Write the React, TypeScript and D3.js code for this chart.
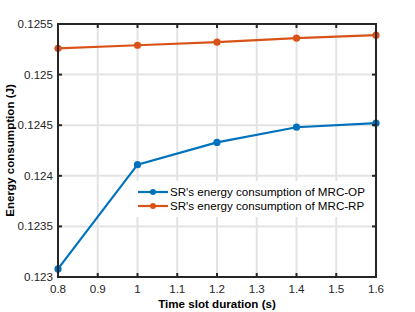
import { line, scaleLinear } from 'd3';

const slotDurations = [0.8, 1.0, 1.2, 1.4, 1.6];
const opEnergy = [0.12308, 0.12411, 0.12433, 0.12448, 0.12452];
const rpEnergy = [0.12526, 0.12529, 0.12532, 0.12536, 0.12539];
const xTicks = [0.8, 0.9, 1.0, 1.1, 1.2, 1.3, 1.4, 1.5, 1.6];
const yTicks = [0.123, 0.1235, 0.124, 0.1245, 0.125, 0.1255];

const seriesList = [
  { name: "SR's energy consumption of MRC-OP", values: opEnergy, color: '#0072BD' },
  { name: "SR's energy consumption of MRC-RP", values: rpEnergy, color: '#D95319' },
];

const width = 415;
const height = 312;
const margin = { top: 24, right: 39, bottom: 35, left: 58 };
const font = 'Liberation Sans, Arial, Helvetica, sans-serif';
const fs = 11.6;

export default function App() {
  const xScale = scaleLinear().domain([0.8, 1.6]).range([margin.left, width - margin.right]);
  const yScale = scaleLinear().domain([0.123, 0.1255]).range([height - margin.bottom, margin.top]);
  const x0 = margin.left;
  const x1 = width - margin.right;
  const y0 = height - margin.bottom;
  const y1 = margin.top;

  const pathFor = (values: number[]) =>
    line<number>()
      .x((_, i) => xScale(slotDurations[i]))
      .y(v => yScale(v))(values) ?? '';

  return (
    <svg width={width} height={height} style={{ position: 'absolute', left: 0, top: 0 }} fontFamily={font}>
      <rect width={width} height={height} fill="#fff" />
      {xTicks.map(t => (
        <line key={`gx${t}`} x1={xScale(t)} x2={xScale(t)} y1={y0} y2={y1} stroke="#e3e3e3" strokeWidth={2} />
      ))}
      {yTicks.map(t => (
        <line key={`gy${t}`} x1={x0} x2={x1} y1={yScale(t)} y2={yScale(t)} stroke="#e3e3e3" strokeWidth={2} />
      ))}

      {seriesList.map(s => (
        <g key={s.name}>
          <path d={pathFor(s.values)} fill="none" stroke={s.color} strokeWidth={2.2} />
          {s.values.map((v, i) => (
            <circle key={i} cx={xScale(slotDurations[i])} cy={yScale(v)} r={3.6} fill={s.color} />
          ))}
        </g>
      ))}

      {/* legend */}
      <rect x={136} y={181} width={236} height={36} fill="#fff" />
      {seriesList.map((s, i) => {
        const ly = 192 + i * 14;
        return (
          <g key={`lg${s.name}`}>
            <line x1={138} x2={168} y1={ly} y2={ly} stroke={s.color} strokeWidth={2.2} />
            <circle cx={153} cy={ly} r={3} fill={s.color} />
            <text x={170} y={ly + 4} fontSize={fs} fill="#000">{s.name}</text>
          </g>
        );
      })}

      {/* axes box */}
      <rect x={x0} y={y1} width={x1 - x0} height={y0 - y1} fill="none" stroke="#262626" strokeWidth={2} />
      {xTicks.map(t => (
        <g key={`tx${t}`}>
          <line x1={xScale(t)} x2={xScale(t)} y1={y0} y2={y0 - 4} stroke="#262626" strokeWidth={2} />
          <line x1={xScale(t)} x2={xScale(t)} y1={y1} y2={y1 + 4} stroke="#262626" strokeWidth={2} />
          <text x={xScale(t)} y={293} fontSize={fs} textAnchor="middle" fill="#262626">{String(t)}</text>
        </g>
      ))}
      {yTicks.map(t => (
        <g key={`ty${t}`}>
          <line x1={x0} x2={x0 + 4} y1={yScale(t)} y2={yScale(t)} stroke="#262626" strokeWidth={2} />
          <line x1={x1} x2={x1 - 4} y1={yScale(t)} y2={yScale(t)} stroke="#262626" strokeWidth={2} />
          <text x={53} y={yScale(t) + 4} fontSize={fs} textAnchor="end" fill="#262626">{String(t)}</text>
        </g>
      ))}

      <text x={(x0 + x1) / 2} y={308} fontSize={fs} fontWeight="bold" textAnchor="middle" fill="#000">
        Time slot duration (s)
      </text>
      <text
        transform={`translate(14, ${(y0 + y1) / 2}) rotate(-90)`}
        fontSize={fs}
        fontWeight="bold"
        textAnchor="middle"
        fill="#000"
      >
        Energy consumption (J)
      </text>
    </svg>
  );
}
